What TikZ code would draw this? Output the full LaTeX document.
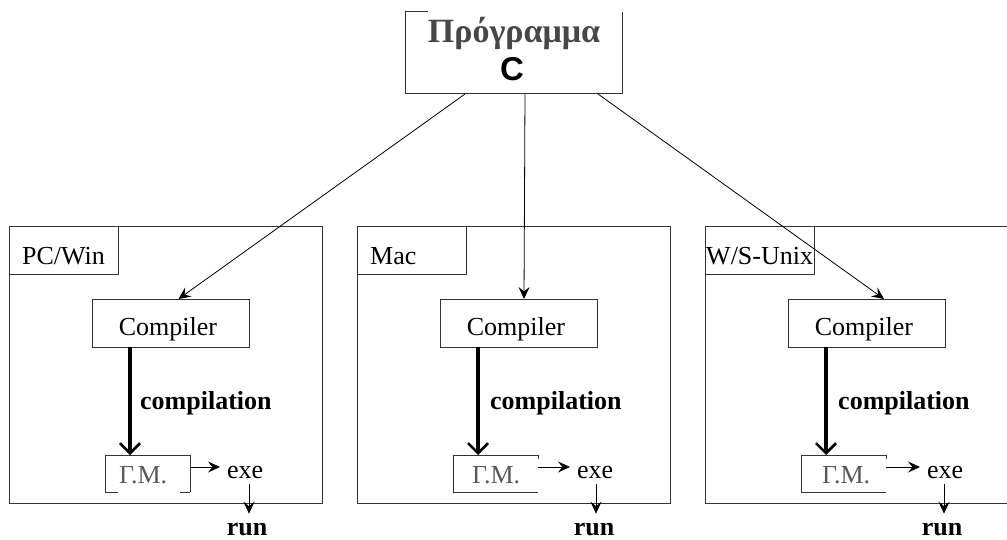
\documentclass[tikz,border=0pt]{standalone}
\usepackage{fontspec}
\setmainfont{Liberation Serif}
\newfontfamily\sansfam{Liberation Sans}
\usetikzlibrary{arrows.meta,calc}
\begin{document}
\begin{tikzpicture}[x=1pt,y=-1pt,
  edge/.style={draw=black!80, line width=1pt},
  blank/.style={inner sep=0pt, outer sep=0pt, anchor=north west},
  txt/.style={inner sep=0pt, font=\fontsize{26}{30}\selectfont},
  btxt/.style={inner sep=0pt, font=\fontsize{26}{30}\selectfont\bfseries},
  arr/.style={-{Stealth[length=12pt,width=11pt,inset=4.5pt]}, line width=0.8pt},
  bigarrow/.style={-{Straight Barb[length=10pt,width=20pt,line width=2.5pt]}, line width=4.5pt}
]
\useasboundingbox (0,0) rectangle (1007,540);

% top box
\node[blank, minimum width=217pt, minimum height=82pt] (t) at (405,12) {};
\draw[edge] ([xshift=23pt]t.north west) -- (t.north west) -- (t.south west) -- (t.south east) -- (t.north east);
\node[inner sep=0pt, anchor=base, font=\fontsize{34}{38}\selectfont\bfseries, text=black!72] (title) at (514,43) {Πρόγραμμα};
\node[inner sep=0pt, anchor=base, font=\fontsize{33}{36}\selectfont\sansfam\bfseries] (lang) at (512,81) {C};

\foreach \i/\gmx/\exx/\runx/\cx in {0/119/220/247/140, 1/472/570/594/490, 2/822/920/942/838}{
  \pgfmathsetmacro{\dx}{348*\i}
  \node[blank, draw=black!80, line width=1pt, minimum width=313pt, minimum height=276pt] (b\i) at (9+\dx,227) {};
  \node[blank, draw=black!80, line width=1pt, minimum width=109pt, minimum height=48pt] (l\i) at (9+\dx,227) {};
  \node[blank, draw=black!80, line width=1pt, fill=white, minimum width=157pt, minimum height=48pt] (c\i) at (92+\dx,299) {};
  \node[txt, anchor=base] (ct\i) at (168+\dx,335) {Compiler};
  \node[blank, minimum width=85pt, minimum height=37pt] (gm\i) at (105+\dx,455) {};
  \ifnum\i=0
    \draw[edge] (gm\i.south west) -- (gm\i.north west) -- (gm\i.north east) -- (gm\i.south east);
    \draw[edge] (gm\i.south west) -- ([xshift=13pt]gm\i.south west);
    \draw[edge] (gm\i.south east) -- ([xshift=-10pt]gm\i.south east);
  \else
    \draw[edge] ([yshift=-4pt]gm\i.north east) -- (gm\i.north east) -- (gm\i.north west) -- (gm\i.south west) -- (gm\i.south east);
  \fi
  \node[txt, anchor=base west, text=black!65] (gt\i) at (\gmx,483) {Γ.Μ.};
  \node[btxt, anchor=base west] (cmp\i) at (\cx,409) {compilation};
  \node[txt, anchor=base west, outer xsep=7pt, outer ysep=6pt] (exe\i) at (\exx,478) {exe};
  \node[btxt, anchor=base, outer ysep=9pt] (run\i) at (\runx,535) {run};
  \draw[bigarrow] ([xshift=38pt]c\i.south west) -- ([xshift=25pt]gm\i.north west);
  \draw[arr] ([yshift=6.5pt]gm\i.east) -- ([yshift=6.5pt]gm\i.east -| exe\i.west);
  \draw[arr] ([xshift=2pt]exe\i.south -| run\i.north) -- ([xshift=2pt]run\i.north);
}

\node[txt, anchor=base west] (lab0) at (22,265) {PC/Win};
\node[txt, anchor=base west] (lab1) at (370,265) {Mac};
\node[txt, anchor=base west] (lab2) at (706,265) {W/S-Unix};

\draw[arr] ([xshift=60pt]t.south west) -- ([xshift=8pt]c0.north);
\draw[arr] ([xshift=11.5pt]t.south) -- ([xshift=5.5pt]c1.north);
\draw[arr] ([xshift=-24pt]t.south east) -- ([xshift=17.5pt]c2.north);
\end{tikzpicture}
\end{document}
